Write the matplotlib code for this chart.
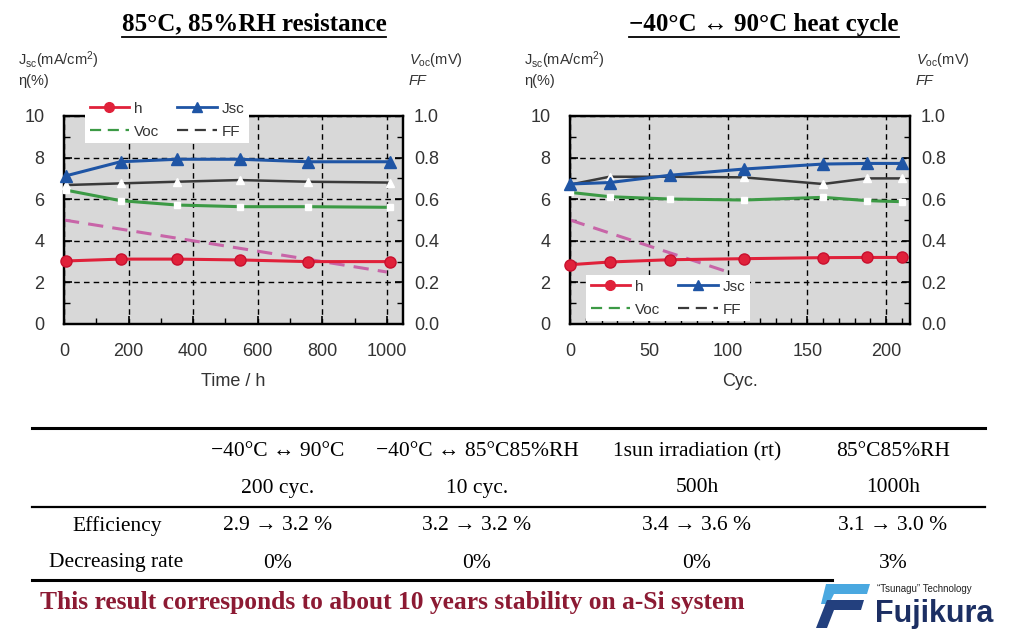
import numpy as np
import matplotlib
matplotlib.use("Agg")
import matplotlib.pyplot as plt
from matplotlib.lines import Line2D
from matplotlib.patches import Polygon

plt.rcParams['font.family'] = ['Liberation Sans', 'DejaVu Sans']
plt.rcParams['mathtext.fontset'] = 'custom'
plt.rcParams['mathtext.rm'] = 'Liberation Sans'
plt.rcParams['mathtext.it'] = 'Liberation Sans:italic'

# 85C 85%RH test, time in hours
time_h = [5, 175, 350, 545, 755, 1010]
eff_time = [3.03, 3.12, 3.12, 3.08, 3.0, 3.0]
jsc_time = [7.12, 7.8, 7.92, 7.92, 7.8, 7.8]
voc_time = [0.644, 0.593, 0.572, 0.564, 0.564, 0.561]
ff_time = [0.668, 0.676, 0.684, 0.692, 0.684, 0.68]
pink_time_x = [0, 1000]
pink_time_y = [5.0, 2.5]

# heat cycle test
cycles = [0, 25, 63, 110, 160, 188, 210]
eff_cyc = [2.85, 2.98, 3.09, 3.14, 3.19, 3.2, 3.2]
jsc_cyc = [6.73, 6.8, 7.15, 7.45, 7.69, 7.72, 7.72]
voc_cyc = [0.633, 0.612, 0.601, 0.596, 0.609, 0.593, 0.588]
ff_cyc = [0.67, 0.708, 0.708, 0.705, 0.673, 0.70, 0.70]
pink_cyc_x = [0, 100]
pink_cyc_y = [5.0, 2.5]

# table
col_head1 = ["\u221240\u00b0C \u2194 90\u00b0C", "\u221240\u00b0C \u2194 85\u00b0C85%RH",
             "1sun irradiation (rt)", "85\u00b0C85%RH"]
col_head2 = ["200 cyc.", "10 cyc.", "500h", "1000h"]
row_names = ["Efficiency", "Decreasing rate"]
eff_row = ["2.9 \u2192 3.2 %", "3.2 \u2192 3.2 %", "3.4 \u2192 3.6 %", "3.1 \u2192 3.0 %"]
dec_row = ["0%", "0%", "0%", "3%"]

RED = '#e0213a'
BLUE = '#1f55a5'
GREEN = '#3c9a45'
DARK = '#3a3a3a'
PINK = '#c865a8'
BG = '#d8d8d8'

W, H = 1017, 640
fig = plt.figure(figsize=(W / 100, H / 100), dpi=100)


def fx(px):
    return px / W


def fy(py):
    return 1 - py / H


def make_panel(left_px, right_px, x, eff, jsc, voc, ff, px_, py_, xlim, xmaj, xmin, xlabel,
               leg_px, leg_py):
    ax = fig.add_axes([fx(left_px), fy(324), (right_px - left_px) / W, 208 / H])
    ax.set_facecolor(BG)
    ax.set_xlim(*xlim)
    ax.set_ylim(0, 10)
    ax.set_xticks(xmaj)
    ax.set_xticks(xmin, minor=True)
    ax.set_yticks(np.arange(0, 11, 2))
    ax.set_yticks(np.arange(1, 10, 2), minor=True)
    ax.grid(True, which='major', color='black', linestyle=(0, (4, 3)), linewidth=1.0)
    ax.tick_params(direction='in', which='both', labelsize=13, labelcolor='#333333',
                   right=False, top=False)
    ax.tick_params(which='major', length=6, width=1.2)
    ax.tick_params(which='minor', length=4, width=1.0)
    ax.tick_params(axis='y', pad=14)
    ax.tick_params(axis='x', pad=14)
    for s in ax.spines.values():
        s.set_linewidth(1.6)
    ax.set_xlabel(xlabel, fontsize=13, color='#333333', labelpad=9)

    ax2 = ax.twinx()
    ax2.set_ylim(0, 1)
    ax2.set_yticks(np.arange(0, 1.01, 0.2))
    ax2.set_yticks(np.arange(0.1, 1.0, 0.2), minor=True)
    ax2.set_yticklabels(["%.1f" % v for v in np.arange(0, 1.01, 0.2)])
    ax2.tick_params(direction='in', which='both', labelsize=13, labelcolor='#333333', pad=8)
    ax2.tick_params(which='major', length=6, width=1.2)
    ax2.tick_params(which='minor', length=4, width=1.0)
    for s in ax2.spines.values():
        s.set_linewidth(1.6)

    ax.plot(px_, py_, color=PINK, linestyle=(0, (5, 3)), linewidth=2.2, zorder=3)
    ax2.plot(x, ff, color=DARK, linewidth=1.8, marker='^', markersize=6,
             markerfacecolor='white', markeredgecolor='white', clip_on=False, zorder=3)
    ax2.plot(x, voc, color=GREEN, linewidth=2.2, marker='s', markersize=5,
             markerfacecolor='white', markeredgecolor='white', clip_on=False, zorder=3)
    ax2.plot(x, jsc, color=BLUE, linewidth=2.2, marker='^', markersize=8,
             markeredgecolor=BLUE, clip_on=False, zorder=4, transform=ax.transData)
    ax2.plot(x, eff, color=RED, linewidth=2.2, marker='o', markersize=8,
             markeredgecolor='#c8102e', clip_on=False, zorder=4, transform=ax.transData)

    handles = [
        Line2D([], [], color=RED, lw=2, marker='o', markersize=7),
        Line2D([], [], color=GREEN, lw=1.6, linestyle=(0, (5, 3))),
        Line2D([], [], color=BLUE, lw=2, marker='^', markersize=7),
        Line2D([], [], color=DARK, lw=1.6, linestyle=(0, (5, 3))),
    ]
    leg = ax2.legend(handles, ["h", "Voc", "Jsc", "FF"], ncol=2, loc='upper left',
                     bbox_to_anchor=(fx(leg_px), fy(leg_py)), bbox_transform=fig.transFigure,
                     borderaxespad=0, frameon=True, fancybox=False, edgecolor='none',
                     facecolor='white', framealpha=1, fontsize=11, handlelength=2.6,
                     handletextpad=0.3, columnspacing=1.2, labelspacing=0.6,
                     borderpad=0.3)
    leg.set_zorder(10)
    for t in leg.get_texts():
        t.set_color('#333333')

    # axis caption blocks
    fig.text(fx(left_px - 46), fy(60), r"$\mathrm{J_{sc}}$(mA/cm$^2$)", fontsize=10.5,
             color='#333333', va='center')
    fig.text(fx(left_px - 46), fy(81), "\u03b7(%)", fontsize=10.5, color='#333333', va='center')
    fig.text(fx(right_px + 6), fy(60), r"$V_{\mathrm{oc}}$(mV)", fontsize=10.5,
             color='#333333', va='center')
    fig.text(fx(right_px + 6), fy(81), "FF", fontsize=10.5, color='#333333', va='center',
             style='italic')
    return ax


make_panel(64, 403, time_h, eff_time, jsc_time, voc_time, ff_time, pink_time_x, pink_time_y,
           (0, 1050), np.arange(0, 1001, 200), np.arange(100, 1001, 200), "Time / h", 85, 97)
make_panel(570, 910, cycles, eff_cyc, jsc_cyc, voc_cyc, ff_cyc, pink_cyc_x, pink_cyc_y,
           (0, 215), np.arange(0, 201, 50), np.arange(10, 211, 10), "Cyc.", 586, 275)

serif = ['Liberation Serif', 'DejaVu Serif']

# titles with underline
titles = [("85\u00b0C, 85%RH resistance", 254), ("\u221240\u00b0C \u2194 90\u00b0C heat cycle", 764)]
fig.canvas.draw()
rend = fig.canvas.get_renderer()
for txt, cx in titles:
    t = fig.text(fx(cx), fy(24), txt, fontsize=18, fontweight='bold', family=serif,
                 ha='center', va='center')
    bb = t.get_window_extent(renderer=rend)
    fig.add_artist(Line2D([bb.x0 / W, bb.x1 / W], [fy(37), fy(37)], color='black', lw=1.3,
                          transform=fig.transFigure))

# table lines
fig.add_artist(Line2D([fx(32), fx(985)], [fy(428), fy(428)], color='black', lw=2.2,
                      transform=fig.transFigure))
fig.add_artist(Line2D([fx(32), fx(985)], [fy(507), fy(507)], color='black', lw=1.6,
                      transform=fig.transFigure))
fig.add_artist(Line2D([fx(32), fx(832)], [fy(580), fy(580)], color='black', lw=2.2,
                      transform=fig.transFigure))

tfs = 15.5
col_x = [278, 477, 697, 893]
for i, cx in enumerate(col_x):
    fig.text(fx(cx), fy(452), col_head1[i], fontsize=tfs, family=serif, ha='center', va='center')
    fig.text(fx(cx), fy(488), col_head2[i], fontsize=tfs, family=serif, ha='center', va='center')
    fig.text(fx(cx), fy(526), eff_row[i], fontsize=tfs, family=serif, ha='center', va='center')
    fig.text(fx(cx), fy(563), dec_row[i], fontsize=tfs, family=serif, ha='center', va='center')
fig.text(fx(117), fy(526), row_names[0], fontsize=tfs, family=serif, ha='center', va='center')
fig.text(fx(116), fy(563), row_names[1], fontsize=tfs, family=serif, ha='center', va='center')

fig.text(fx(40), fy(602), "This result corresponds to about 10 years stability on a-Si system",
         fontsize=18.4, fontweight='bold', family=serif, color='#8c1a33', ha='left', va='center')

# logo
fig.add_artist(Polygon([(fx(826), fy(584)), (fx(870), fy(584)), (fx(867), fy(594)),
                        (fx(834), fy(594)), (fx(829), fy(604)), (fx(821), fy(604))],
                       closed=True, facecolor='#4aa8e0', edgecolor='none',
                       transform=fig.transFigure))
fig.add_artist(Polygon([(fx(827), fy(600)), (fx(864), fy(600)), (fx(861), fy(610)),
                        (fx(834), fy(610)), (fx(827), fy(628)), (fx(816), fy(628))],
                       closed=True, facecolor='#23407e', edgecolor='none',
                       transform=fig.transFigure))
fig.text(fx(877), fy(589), "\u201cTsunagu\u201d Technology", fontsize=7, color='#222222',
         ha='left', va='center')
fig.text(fx(875), fy(614), "Fujikura", fontsize=22, fontweight='bold', color='#1c2f63',
         ha='left', va='center')

fig.savefig("out.png", dpi=100)
